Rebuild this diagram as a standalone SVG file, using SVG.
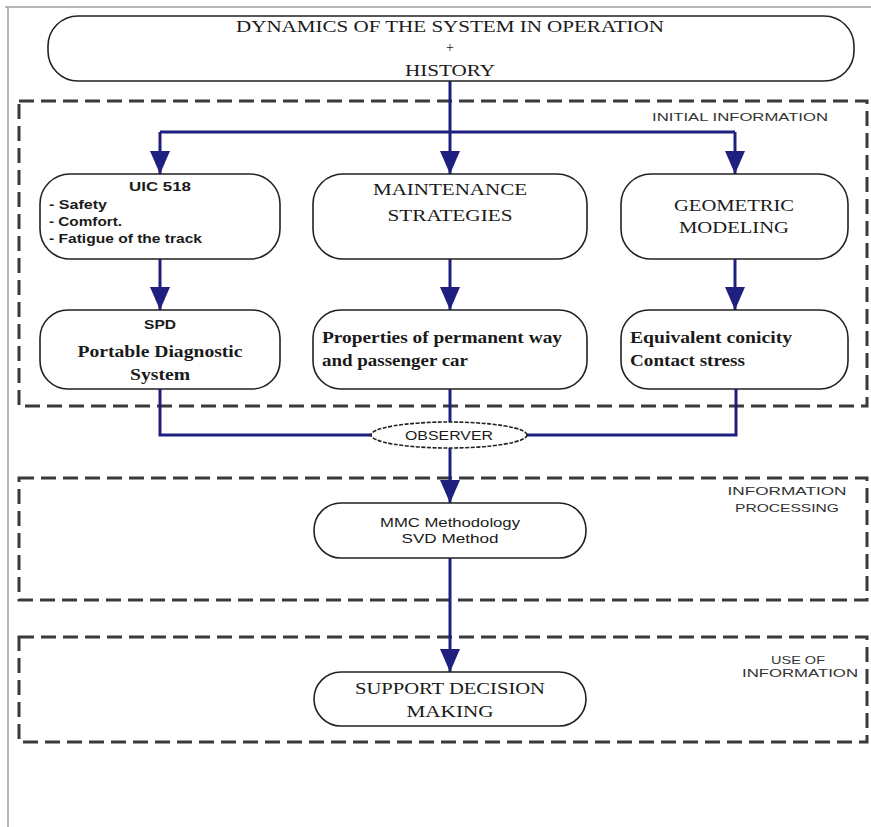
<svg xmlns="http://www.w3.org/2000/svg" width="871" height="827" viewBox="0 0 871 827">
<defs>
<style>
.frame{stroke:#a0a0a0;stroke-width:1.5;fill:none}
.zone{fill:none;stroke:#3a3a3a;stroke-width:3;stroke-dasharray:15 7}
.node{fill:#fff;stroke:#222;stroke-width:1.6}
.conn{fill:none;stroke:#1f1f80;stroke-width:3}
.serif{font-family:"Liberation Serif","Times New Roman",serif;fill:#1a1a1a}
.sans{font-family:"Liberation Sans",Arial,sans-serif;fill:#1a1a1a}
.lbl{font-family:"Liberation Sans",Arial,sans-serif;font-size:11.5px;fill:#333}
</style>
<marker id="arr" markerWidth="23" markerHeight="20" refX="23" refY="10" orient="auto" markerUnits="userSpaceOnUse" viewBox="0 0 23 20">
<path d="M0,0 L23,10 L0,20 Z" fill="#1f1f80"/>
</marker>
</defs>
<rect width="871" height="827" fill="#fff"/>
<path class="frame" d="M5,7 H871 M8,7 V827"/>

<g id="zones">
<rect class="zone" x="19" y="101" width="848" height="305"/>
<text class="lbl" x="652" y="121" textLength="176" lengthAdjust="spacingAndGlyphs">INITIAL INFORMATION</text>
<rect class="zone" x="19" y="478" width="848" height="122"/>
<text class="lbl" x="787" y="495" text-anchor="middle" textLength="119" lengthAdjust="spacingAndGlyphs">INFORMATION</text>
<text class="lbl" x="787" y="512" text-anchor="middle" textLength="104" lengthAdjust="spacingAndGlyphs">PROCESSING</text>
<rect class="zone" x="19" y="637" width="848" height="105"/>
<text class="lbl" x="798" y="664" text-anchor="middle" textLength="54" lengthAdjust="spacingAndGlyphs">USE OF</text>
<text class="lbl" x="800" y="677" text-anchor="middle" textLength="116" lengthAdjust="spacingAndGlyphs">INFORMATION</text>
</g>

<g id="connectors">
<path class="conn" d="M450,80 V132 M160,132 H735"/>
<path class="conn" d="M160,132 V174" marker-end="url(#arr)"/>
<path class="conn" d="M450,132 V174" marker-end="url(#arr)"/>
<path class="conn" d="M735,132 V174" marker-end="url(#arr)"/>
<path class="conn" d="M160,259 V310" marker-end="url(#arr)"/>
<path class="conn" d="M450,259 V310" marker-end="url(#arr)"/>
<path class="conn" d="M735,259 V310" marker-end="url(#arr)"/>
<path class="conn" d="M160,389 V435 H371"/>
<path class="conn" d="M736,389 V435 H527"/>
<path class="conn" d="M450,389 V422"/>
<path class="conn" d="M450,448 V503" marker-end="url(#arr)"/>
<path class="conn" d="M450,558 V672" marker-end="url(#arr)"/>
</g>

<g id="top">
<rect class="node" x="48" y="16" width="806" height="65" rx="30"/>
<text class="serif" x="450" y="32" text-anchor="middle" font-size="16" textLength="428" lengthAdjust="spacingAndGlyphs">DYNAMICS OF THE SYSTEM IN OPERATION</text>
<text class="serif" x="450" y="52" text-anchor="middle" font-size="14">+</text>
<text class="serif" x="450" y="76" text-anchor="middle" font-size="16" textLength="90" lengthAdjust="spacingAndGlyphs">HISTORY</text>
</g>

<g id="uic">
<rect class="node" x="40" y="174" width="240" height="85" rx="30"/>
<text class="sans" x="160" y="191" text-anchor="middle" font-size="13.5" font-weight="bold" textLength="62" lengthAdjust="spacingAndGlyphs">UIC 518</text>
<text class="sans" x="49" y="209" font-size="13" font-weight="bold" textLength="58" lengthAdjust="spacingAndGlyphs">- Safety</text>
<text class="sans" x="49" y="226" font-size="13" font-weight="bold" textLength="73" lengthAdjust="spacingAndGlyphs">- Comfort.</text>
<text class="sans" x="49" y="243" font-size="13" font-weight="bold" textLength="153" lengthAdjust="spacingAndGlyphs">- Fatigue of the track</text>
</g>

<g id="maint">
<rect class="node" x="313" y="174" width="274" height="85" rx="30"/>
<text class="serif" x="450" y="195" text-anchor="middle" font-size="16" textLength="154" lengthAdjust="spacingAndGlyphs">MAINTENANCE</text>
<text class="serif" x="450" y="221" text-anchor="middle" font-size="16" textLength="125" lengthAdjust="spacingAndGlyphs">STRATEGIES</text>
</g>

<g id="geom">
<rect class="node" x="621" y="174" width="227" height="85" rx="30"/>
<text class="serif" x="734" y="211" text-anchor="middle" font-size="16" textLength="120" lengthAdjust="spacingAndGlyphs">GEOMETRIC</text>
<text class="serif" x="734" y="233" text-anchor="middle" font-size="16" textLength="110" lengthAdjust="spacingAndGlyphs">MODELING</text>
</g>

<g id="spd">
<rect class="node" x="40" y="310" width="240" height="79" rx="28"/>
<text class="sans" x="160" y="329" text-anchor="middle" font-size="13.5" font-weight="bold" textLength="32" lengthAdjust="spacingAndGlyphs">SPD</text>
<text class="serif" x="160" y="357" text-anchor="middle" font-size="16" font-weight="bold" textLength="165" lengthAdjust="spacingAndGlyphs">Portable Diagnostic</text>
<text class="serif" x="160" y="380" text-anchor="middle" font-size="16" font-weight="bold" textLength="60" lengthAdjust="spacingAndGlyphs">System</text>
</g>

<g id="props">
<rect class="node" x="313" y="310" width="274" height="79" rx="28"/>
<text class="serif" x="322" y="343" font-size="16" font-weight="bold" textLength="240" lengthAdjust="spacingAndGlyphs">Properties of permanent way</text>
<text class="serif" x="322" y="366" font-size="16" font-weight="bold" textLength="146" lengthAdjust="spacingAndGlyphs">and passenger car</text>
</g>

<g id="conic">
<rect class="node" x="621" y="310" width="227" height="79" rx="28"/>
<text class="serif" x="630" y="343" font-size="16" font-weight="bold" textLength="162" lengthAdjust="spacingAndGlyphs">Equivalent conicity</text>
<text class="serif" x="630" y="366" font-size="16" font-weight="bold" textLength="115" lengthAdjust="spacingAndGlyphs">Contact stress</text>
</g>

<g id="observer">
<ellipse cx="449" cy="435" rx="78" ry="13" fill="#fff" stroke="#222" stroke-width="1.6" stroke-dasharray="4 1.5"/>
<text class="sans" x="449" y="440" text-anchor="middle" font-size="12.5" textLength="88" lengthAdjust="spacingAndGlyphs">OBSERVER</text>
</g>

<g id="mmc">
<rect class="node" x="314" y="503" width="272" height="55" rx="27"/>
<text class="sans" x="450" y="527" text-anchor="middle" font-size="12.5" textLength="140" lengthAdjust="spacingAndGlyphs">MMC Methodology</text>
<text class="sans" x="450" y="543" text-anchor="middle" font-size="12.5" textLength="97" lengthAdjust="spacingAndGlyphs">SVD Method</text>
</g>

<g id="support">
<rect class="node" x="314" y="672" width="272" height="54" rx="27"/>
<text class="serif" x="450" y="694" text-anchor="middle" font-size="16" textLength="190" lengthAdjust="spacingAndGlyphs">SUPPORT DECISION</text>
<text class="serif" x="450" y="717" text-anchor="middle" font-size="16" textLength="87" lengthAdjust="spacingAndGlyphs">MAKING</text>
</g>
</svg>
